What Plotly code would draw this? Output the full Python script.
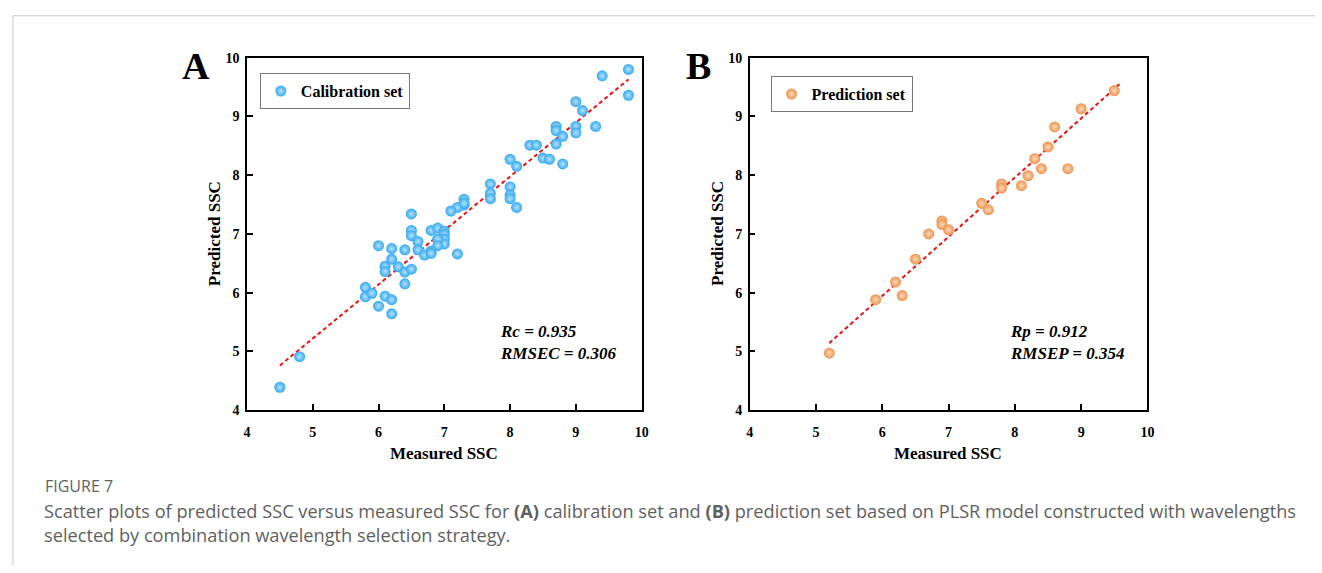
import plotly.graph_objects as go

W, H = 1322, 573

# ---- Data ----
cal_measured = [9.8, 9.4, 9.8, 9.0, 9.1, 8.7, 8.7, 8.8, 9.0, 9.0, 9.3, 8.7, 8.3, 8.4, 8.5, 8.6, 8.8,
                8.0, 8.1, 7.7, 7.7, 7.7, 8.0, 8.0, 8.0, 8.1, 7.3, 7.3, 7.2, 7.1, 7.3,
                6.5, 6.5, 6.5, 6.8, 6.9, 7.0, 7.0, 7.0, 7.0, 6.9, 6.9, 6.6, 6.6, 6.7, 6.8, 6.8, 7.2,
                6.0, 6.2, 6.4, 6.2, 6.1, 6.1, 6.3, 6.4, 6.5, 6.4, 5.8, 5.8, 5.9, 6.1, 6.2, 6.0, 6.2,
                4.8, 4.5]
cal_predicted = [9.80, 9.69, 9.36, 9.25, 9.10, 8.83, 8.76, 8.66, 8.83, 8.72, 8.83, 8.53, 8.51, 8.51, 8.29, 8.27, 8.19,
                 8.27, 8.15, 7.85, 7.69, 7.60, 7.80, 7.66, 7.60, 7.45, 7.59, 7.49, 7.45, 7.39, 7.52,
                 7.34, 7.06, 6.97, 7.06, 7.10, 7.05, 6.99, 6.91, 6.83, 6.91, 6.80, 6.87, 6.73, 6.64, 6.71, 6.67, 6.66,
                 6.80, 6.75, 6.73, 6.57, 6.45, 6.36, 6.44, 6.35, 6.40, 6.15, 6.09, 5.93, 5.99, 5.94, 5.88, 5.77, 5.64,
                 4.91, 4.39]

pred_measured = [9.5, 9.0, 8.6, 8.5, 8.3, 8.4, 8.8, 8.2, 8.1, 7.8, 7.8, 7.5, 7.6, 6.9, 6.9, 7.0, 6.7,
                 6.5, 6.2, 6.3, 5.9, 5.2]
pred_predicted = [9.44, 9.13, 8.82, 8.48, 8.28, 8.11, 8.11, 7.99, 7.82, 7.85, 7.78, 7.52, 7.41, 7.22, 7.16, 7.07, 7.00,
                  6.57, 6.18, 5.95, 5.88, 4.97]

cal_fit_x = [4.5, 9.8]
cal_fit_y = [4.76, 9.63]
pred_fit_x = [5.2, 9.58]
pred_fit_y = [5.14, 9.55]

tick_vals = [4, 5, 6, 7, 8, 9, 10]
tick_text = ["4", "5", "6", "7", "8", "9", "10"]

cal_stats = ["Rc = 0.935", "RMSEC = 0.306"]
pred_stats = ["Rp = 0.912", "RMSEP = 0.354"]

# ---- Styling ----
SERIF = "Liberation Serif"
BLUE, BLUE_HI = "#35a9ef", "#b4e2fd"
ORANGE, ORANGE_HI = "#ee934f", "#fdd9bb"
RED = "#f01010"

def px_x(p):
    return p / W

def px_y(p):
    return 1 - p / H

fig = go.Figure()

fig.add_trace(go.Scatter(
    x=cal_fit_x, y=cal_fit_y, mode="lines", showlegend=False,
    line=dict(color=RED, width=2, dash="4px,3px"), xaxis="x", yaxis="y"))
fig.add_trace(go.Scatter(
    x=cal_measured, y=cal_predicted, mode="markers", name="Calibration set",
    marker=dict(size=11, color=BLUE, gradient=dict(type="radial", color=BLUE_HI),
                line=dict(width=0)),
    xaxis="x", yaxis="y", legend="legend"))

fig.add_trace(go.Scatter(
    x=pred_fit_x, y=pred_fit_y, mode="lines", showlegend=False,
    line=dict(color=RED, width=2, dash="4px,3px"), xaxis="x2", yaxis="y2"))
fig.add_trace(go.Scatter(
    x=pred_measured, y=pred_predicted, mode="markers", name="Prediction set",
    marker=dict(size=11, color=ORANGE, gradient=dict(type="radial", color=ORANGE_HI),
                line=dict(width=0)),
    xaxis="x2", yaxis="y2", legend="legend2"))

axis_common = dict(
    range=[4, 10], tickmode="array", tickvals=tick_vals, ticktext=tick_text,
    ticks="inside", ticklen=6, tickwidth=1.5, tickcolor="black",
    showline=True, linecolor="black", linewidth=1.5, mirror=True,
    showgrid=False, zeroline=False, fixedrange=True,
    tickfont=dict(family=SERIF, size=14, color="black", weight="bold"),
)
xaxis_extra = dict(ticklabelstandoff=8)
yaxis_extra = dict(ticklabelstandoff=3)

ydom = [px_y(414), px_y(52)]
legend_font = dict(family=SERIF, size=16, color="black", weight="bold")
fig.update_layout(
    width=W, height=H,
    margin=dict(l=0, r=0, t=0, b=0),
    paper_bgcolor="white", plot_bgcolor="white",
    xaxis=dict(domain=[px_x(245), px_x(643)], anchor="y", **axis_common, **xaxis_extra),
    yaxis=dict(domain=ydom, anchor="x", **axis_common, **yaxis_extra),
    xaxis2=dict(domain=[px_x(752), px_x(1153)], anchor="y2", **axis_common, **xaxis_extra),
    yaxis2=dict(domain=ydom, anchor="x2", **axis_common, **yaxis_extra),
    legend=dict(x=px_x(258), y=px_y(68), xanchor="left", yanchor="top",
                bordercolor="#777", borderwidth=1, bgcolor="white", font=legend_font),
    legend2=dict(x=px_x(773), y=px_y(71), xanchor="left", yanchor="top",
                 bordercolor="#777", borderwidth=1, bgcolor="white", font=legend_font),
    showlegend=True,
)

ann = []
title_font = dict(family=SERIF, size=17, color="black", weight="bold")
# axis titles
for cx in [444, 952]:
    ann.append(dict(x=px_x(cx), y=px_y(459), xref="paper", yref="paper",
                    text="Measured SSC", showarrow=False, font=title_font,
                    xanchor="center", yanchor="middle"))
for cx in [213, 720]:
    ann.append(dict(x=px_x(cx), y=px_y(233), xref="paper", yref="paper",
                    text="Predicted SSC", showarrow=False, font=title_font, textangle=-90,
                    xanchor="center", yanchor="middle"))
# panel letters
for cx, letter in [(194, "A"), (700, "B")]:
    ann.append(dict(x=px_x(cx), y=px_y(61), xref="paper", yref="paper",
                    text=letter, showarrow=False,
                    font=dict(family=SERIF, size=38, color="black", weight="bold"),
                    xanchor="center", yanchor="middle"))
# stats
stat_font = dict(family=SERIF, size=17, color="black", weight="bold")
for (xr, yr, xv, stats) in [("x", "y", 7.82, cal_stats), ("x2", "y2", 7.90, pred_stats)]:
    for yv, s in zip([5.34, 4.96], stats):
        ann.append(dict(x=xv, y=yv, xref=xr, yref=yr, text="<i>" + s + "</i>",
                        showarrow=False, font=stat_font, xanchor="left", yanchor="middle"))
# caption
cap_color = "#5f5f5f"
ann.append(dict(x=px_x(39), y=px_y(492), xref="paper", yref="paper", text="FIGURE 7",
                showarrow=False, font=dict(family="Open Sans", size=16, color=cap_color),
                xanchor="left", yanchor="middle"))
ann.append(dict(x=px_x(38), y=px_y(518), xref="paper", yref="paper",
                text="Scatter plots of predicted SSC versus measured SSC for <b>(A)</b> calibration set and "
                     "<b>(B)</b> prediction set based on PLSR model constructed with wavelengths",
                showarrow=False, font=dict(family="Open Sans", size=18.2, color=cap_color),
                xanchor="left", yanchor="middle"))
ann.append(dict(x=px_x(38), y=px_y(542), xref="paper", yref="paper",
                text="selected by combination wavelength selection strategy.",
                showarrow=False, font=dict(family="Open Sans", size=18.2, color=cap_color),
                xanchor="left", yanchor="middle"))
fig.update_layout(annotations=ann)

# page frame (top and left lines)
fig.update_layout(shapes=[
    dict(type="line", xref="paper", yref="paper", x0=px_x(9), x1=1, y0=px_y(9), y1=px_y(9),
         line=dict(color="#c8c8c8", width=1)),
    dict(type="line", xref="paper", yref="paper", x0=px_x(9), x1=px_x(9), y0=px_y(9), y1=0,
         line=dict(color="#c8c8c8", width=1)),
])

fig.write_html(
    "out.html",
    post_script="document.documentElement.style.margin='0';document.body.style.margin='0';"
                "document.body.style.padding='0';document.body.style.overflow='hidden';",
)
